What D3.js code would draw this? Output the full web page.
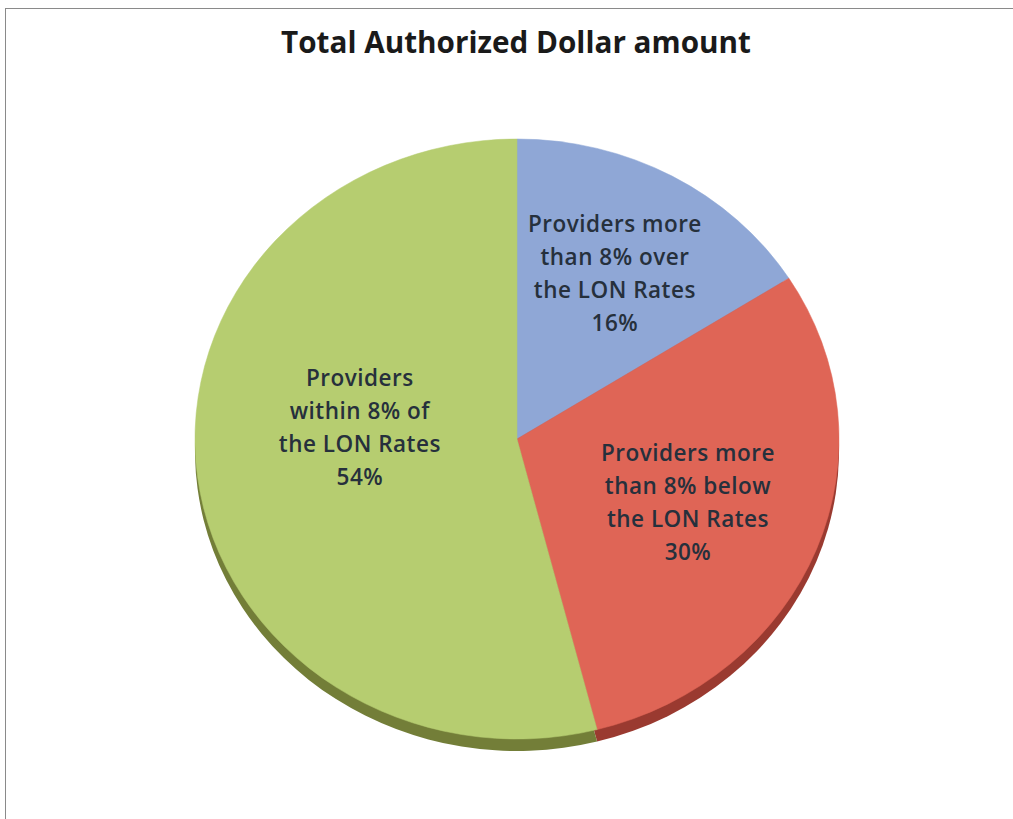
<!DOCTYPE html>
<html>
<head>
<meta charset="utf-8">
<script src="https://cdn.jsdelivr.net/npm/d3@7"></script>
<style>
  body { margin: 0; background: #fff; }
  svg { display: block; }
</style>
</head>
<body>
<svg id="chart" width="1013" height="819"></svg>
<script>
// chart data
const title = "Total Authorized Dollar amount";
const categories = [
  "Providers more than 8% over the LON Rates",
  "Providers more than 8% below the LON Rates",
  "Providers within 8% of the LON Rates"
];
const labelLines = [
  ["Providers more", "than 8% over", "the LON Rates"],
  ["Providers more", "than 8% below", "the LON Rates"],
  ["Providers", "within 8% of", "the LON Rates"]
];
const values = [16, 30, 54];
const topColors = ["#8FA7D6", "#DF6556", "#B6CD70"];
const sideColors = ["#5C6E96", "#9A3A30", "#737E38"];

// layout
const width = 1013, height = 819;
const cx = 517, cy = 439;
const rx = 322, ry = 300;
const depth = 12;
// label centres as fractions of the radii (Excel "best fit" placement)
const labelPos = [[0.304, -0.553], [0.531, 0.213], [-0.488, -0.037]];
const lineGap = 33;

const svg = d3.select("#chart")
  .attr("font-family", "'Open Sans', 'DejaVu Sans', sans-serif");

svg.append("rect")
  .attr("x", 5.5).attr("y", 8.5)
  .attr("width", width).attr("height", height)
  .attr("fill", "#fff")
  .attr("stroke", "#8a8a8a")
  .attr("stroke-width", 1);

svg.append("text")
  .attr("x", 516).attr("y", 53)
  .attr("text-anchor", "middle")
  .attr("font-size", 30)
  .attr("font-weight", 700)
  .attr("fill", "#1a1a1a")
  .attr("textLength", 470)
  .attr("lengthAdjust", "spacingAndGlyphs")
  .text(title);

const pie = d3.pie().sort(null).value(d => d)(values);
const arc = d3.arc().innerRadius(0).outerRadius(ry);

// sides of the disc: darker copy moved down
const sideG = svg.append("g")
  .attr("transform", `translate(${cx},${cy + depth}) scale(${rx / ry},1)`);
sideG.selectAll("path")
  .data(pie)
  .enter()
  .append("path")
  .attr("d", arc)
  .attr("fill", (d, i) => sideColors[i]);

// top surface
const topG = svg.append("g")
  .attr("transform", `translate(${cx},${cy}) scale(${rx / ry},1)`);
topG.selectAll("path")
  .data(pie)
  .enter()
  .append("path")
  .attr("d", arc)
  .attr("fill", (d, i) => topColors[i])
  .attr("stroke", (d, i) => topColors[i])
  .attr("stroke-width", 0.5);

// labels
const labels = svg.append("g")
  .attr("font-size", 22.5)
  .attr("font-weight", 600)
  .attr("letter-spacing", 0.5)
  .attr("fill", "#26303c")
  .attr("text-anchor", "middle");

pie.forEach((d, i) => {
  const x = cx + rx * labelPos[i][0];
  const y = cy + ry * labelPos[i][1];
  const lines = labelLines[i].concat([values[i] + "%"]);
  const t = labels.append("text")
    .attr("x", x)
    .attr("y", y - (lines.length - 1) * lineGap / 2 + 8);
  lines.forEach((s, k) => {
    t.append("tspan")
      .attr("x", x)
      .attr("dy", k === 0 ? 0 : lineGap)
      .text(s);
  });
});
</script>
</body>
</html>
